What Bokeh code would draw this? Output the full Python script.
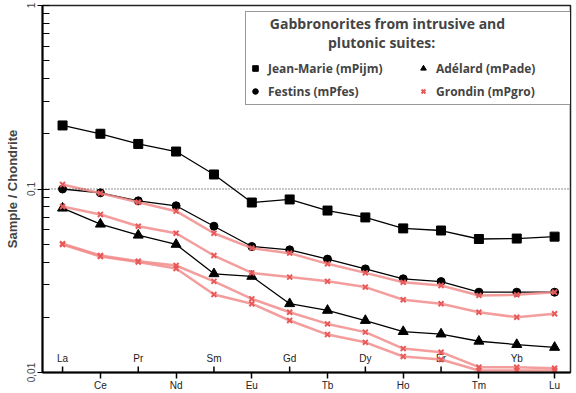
from bokeh.plotting import figure
from bokeh.models import (Range1d, LinearAxis, FixedTicker, CustomJSTickFormatter,
                          Span, Legend, LegendItem)
from bokeh.core.properties import value
from bokeh.embed import file_html
from bokeh.resources import INLINE

elements = ["La", "Ce", "Pr", "Nd", "Sm", "Eu", "Gd", "Tb", "Dy", "Ho", "Er", "Tm", "Yb", "Lu"]

jean_marie = [0.222, 0.200, 0.176, 0.160, 0.120, 0.0844, 0.0877, 0.0763, 0.0700, 0.0610, 0.0594, 0.0534, 0.0537, 0.0550]
festins = [0.100, 0.0953, 0.0862, 0.0810, 0.0627, 0.0486, 0.0466, 0.0415, 0.0367, 0.0324, 0.0313, 0.0274, 0.0274, 0.0274]
adelard = [0.0786, 0.0643, 0.0560, 0.0499, 0.0345, 0.0334, 0.0237, 0.0218, 0.0192, 0.0167, 0.0162, 0.0148, 0.0142, 0.0137]
grondin_1 = [0.1058, 0.0949, 0.0847, 0.0757, 0.0574, 0.0476, 0.0447, 0.0391, 0.0349, 0.0310, 0.0298, 0.0263, 0.0265, 0.0274]
grondin_2 = [0.0803, 0.0726, 0.0627, 0.0574, 0.0434, 0.0349, 0.0331, 0.0314, 0.0292, 0.0249, 0.0237, 0.0213, 0.0200, 0.0209]
grondin_3 = [0.0503, 0.0434, 0.0404, 0.0383, 0.0314, 0.0252, 0.0213, 0.0184, 0.0166, 0.0135, 0.0129, 0.01069, 0.01069, 0.01055]
grondin_4 = [0.0498, 0.0429, 0.0400, 0.0369, 0.0266, 0.0237, 0.0192, 0.0161, 0.0146, 0.01222, 0.01177, 0.01025, 0.01025, 0.01025]

y_ticks = [0.01, 0.1, 1]
y_minor = [m * d for d in (0.01, 0.1) for m in range(2, 10)]

xs = list(range(len(elements)))
y_lo, y_hi = 0.01, 1.0

p = figure(width=576, height=393, y_axis_type="log",
           x_range=Range1d(-0.53, 13.42), y_range=Range1d(y_lo, y_hi),
           x_axis_location=None, output_backend="svg", toolbar_location=None,
           min_border_left=42, min_border_right=6, min_border_top=5, min_border_bottom=20)
p.grid.visible = False
p.outline_line_color = "#222222"
p.outline_line_width = 1.5
p.background_fill_color = "white"
p.border_fill_color = "white"

# bottom axis: odd elements below
xa = LinearAxis(ticker=FixedTicker(ticks=xs[1::2], minor_ticks=[]),
                formatter=CustomJSTickFormatter(args=dict(names=elements),
                                                code="return names[Math.round(tick)]"))
xa.major_tick_in = 0
xa.major_tick_out = 6
xa.major_label_standoff = 1
xa.axis_line_width = 2
xa.major_tick_line_width = 1.5
xa.major_label_text_font = "Liberation Sans"
xa.major_label_text_font_size = "10px"
xa.major_label_text_color = "#222222"
p.add_layout(xa, "below")

# even elements labelled inside, above the axis, with inward ticks
even_x = xs[0::2]
even_names = elements[0::2]
p.scatter(x=even_x, y=[y_lo] * len(even_x), marker="dash", angle=1.5708,
          size=12, line_color="black", line_width=1.5)
p.text(x=even_x, y=[y_lo] * len(even_x), text=even_names, y_offset=-9,
       text_align="center", text_baseline="bottom",
       text_font=value("Liberation Sans"), text_font_size="10px", text_color="#222222")

ya = p.yaxis[0]
ya.ticker = FixedTicker(ticks=y_ticks, minor_ticks=y_minor)
ya.formatter = CustomJSTickFormatter(code="return tick.toString().replace('.', ',')")
ya.major_label_orientation = "vertical"
ya.major_label_standoff = 3
ya.major_label_text_font = "Liberation Sans"
ya.major_label_text_font_size = "10px"
ya.major_tick_in = 7
ya.major_tick_out = 5
ya.minor_tick_in = 7
ya.minor_tick_out = 0
ya.axis_line_width = 2
ya.axis_label = "Sample / Chondrite"
ya.axis_label_text_font = "Liberation Sans"
ya.axis_label_text_font_style = "bold"
ya.axis_label_text_font_size = "13px"
ya.axis_label_standoff = 4

p.add_layout(Span(location=0.1, dimension="width", line_color="#222222",
                  line_dash="1 2", line_width=1.2))

# black series
p.line(xs, jean_marie, line_color="black", line_width=1.3)
sq = p.scatter(xs, jean_marie, marker="square", size=9, color="black")
p.line(xs, festins, line_color="black", line_width=1.3)
ci = p.scatter(xs, festins, marker="circle", size=8, color="black")
p.line(xs, adelard, line_color="black", line_width=1.3)
tr = p.scatter(xs, adelard, marker="triangle", size=10, color="black")

# red series
red_line = "#f28c8c"
red_mark = "#e85a5a"
gr = None
for g in (grondin_1, grondin_2, grondin_3, grondin_4):
    p.line(xs, g, line_color=red_line, line_width=2.5, line_alpha=0.85)
    r = p.scatter(xs, g, marker="x", size=7, line_color=red_mark, line_width=2)
    if gr is None:
        gr = r

nb = "\u00a0"
legend = Legend(items=[LegendItem(label="Jean-Marie (mPijm)", renderers=[sq]),
                       LegendItem(label="Festins (mPfes)", renderers=[ci]),
                       LegendItem(label="Adélard (mPade)", renderers=[tr]),
                       LegendItem(label="Grondin (mPgro)", renderers=[gr])],
                ncols=2, location=(203, 267),
                title=nb * 6 + "Gabbronorites from intrusive and\n" + nb * 22 + "plutonic suites:")
legend.title_text_font = "Open Sans"
legend.title_text_font_style = "bold"
legend.title_text_font_size = "14px"
legend.title_standoff = 5
legend.label_text_font = "Open Sans"
legend.label_text_font_style = "bold"
legend.label_text_font_size = "12px"
legend.glyph_width = 14
legend.label_standoff = 6
legend.label_width = 147
legend.label_height = 22
legend.spacing = 1
legend.padding = 2
legend.border_line_color = "#333333"
legend.border_line_width = 1.5
legend.background_fill_color = "white"
legend.background_fill_alpha = 1.0
p.add_layout(legend, "center")

open("out.html", "w").write(file_html(p, INLINE))
